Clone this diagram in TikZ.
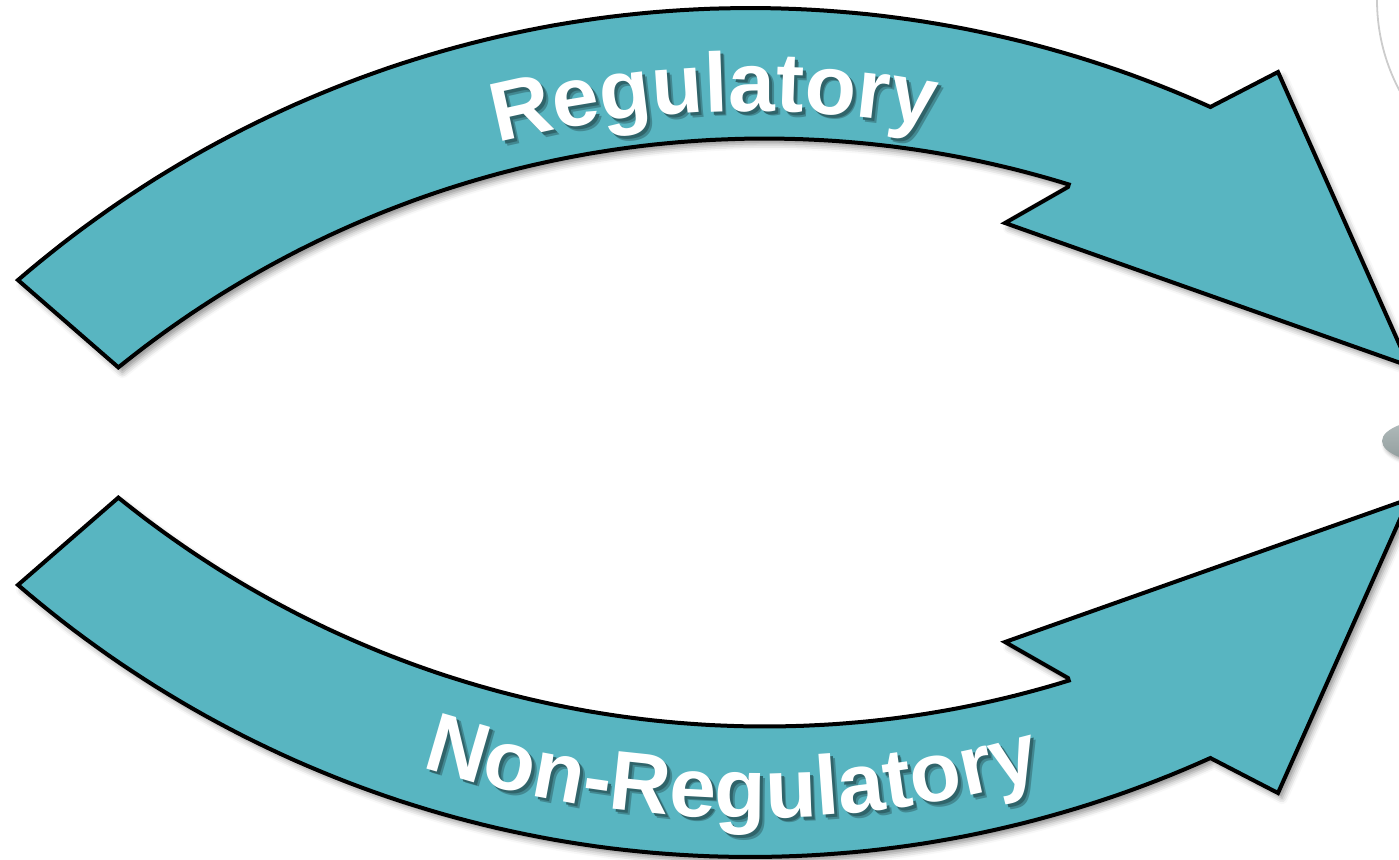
\documentclass[tikz,border=0pt]{standalone}
\usepackage{fontspec}
\setmainfont{Liberation Sans}
\usetikzlibrary{decorations.text,shadows.blur}
\definecolor{bandfill}{HTML}{58B5C1}
\definecolor{blobtop}{HTML}{B4BEBE}
\definecolor{blobbot}{HTML}{8E9A9A}

\begin{document}
\begin{tikzpicture}[x=0.5pt,y=-0.5pt,
  band/.style={fill=bandfill, draw=black, line width=2pt, line join=miter,
    blur shadow={shadow xshift=2pt, shadow yshift=-2.5pt,
                 shadow blur radius=3pt, shadow opacity=45}},
  bandtext/.style={decorate, decoration={text along path, text align=center,
    text color=#1}}]
\useasboundingbox (0,0) rectangle (1399,859);
\clip (0,0) rectangle (1399,859);

% partial circle in the top right corner
\draw[gray!40, line width=0.9pt] (1570,0) circle[radius=96.5pt];

% grey blob at the right edge
\path[top color=blobtop, bottom color=blobbot,
      blur shadow={shadow xshift=1.5pt, shadow yshift=-1.5pt, shadow blur radius=2pt, shadow opacity=40}]
  (1444,441) ellipse[x radius=31pt, y radius=11.5pt];

% upper curved arrow
\path[band]
  plot[domain=130.77:65.75, samples=90] ({750+1121*cos(\x)},{1129-1121*sin(\x)})
  -- (1278,72) -- (1409,366) -- (1005,223) -- (1068,187)
  -- plot[domain=72.81:128.98, samples=90] ({765+1028*cos(\x)},{1166.5-1028*sin(\x)})
  -- cycle;

% lower curved arrow
\path[band]
  plot[domain=130.77:65.75, samples=90] ({750+1121*cos(\x)},{-264+1121*sin(\x)})
  -- (1278,793) -- (1409,499) -- (1005,642) -- (1068,678)
  -- plot[domain=72.81:128.98, samples=90] ({765+1028*cos(\x)},{-301.5+1028*sin(\x)})
  -- cycle;

% label on the upper arrow: soft shadow layers, then the white text
\begin{scope}[xshift=2.4pt, yshift=-2.4pt]
  \path[bandtext=bandfill!75!black, decoration={text={|\fontsize{42}{44}\selectfont\bfseries|Regulatory}}]
    plot[domain=122:62, samples=120] ({750+1018*cos(\x)},{1129-1018*sin(\x)});
\end{scope}
\begin{scope}[xshift=1.5pt, yshift=-1.5pt]
  \path[bandtext=bandfill!55!black, decoration={text={|\fontsize{42}{44}\selectfont\bfseries|Regulatory}}]
    plot[domain=122:62, samples=120] ({750+1018*cos(\x)},{1129-1018*sin(\x)});
\end{scope}
\path[bandtext=white, decoration={text={|\fontsize{42}{44}\selectfont\bfseries|Regulatory}}]
  plot[domain=122:62, samples=120] ({750+1018*cos(\x)},{1129-1018*sin(\x)});

% label on the lower arrow
\begin{scope}[xshift=2.4pt, yshift=-2.4pt]
  \path[bandtext=bandfill!75!black, decoration={text={|\fontsize{42}{44}\selectfont\bfseries|Non-Regulatory}}]
    plot[domain=121:61, samples=120] ({750+1082*cos(\x)},{-264+1082*sin(\x)});
\end{scope}
\begin{scope}[xshift=1.5pt, yshift=-1.5pt]
  \path[bandtext=bandfill!55!black, decoration={text={|\fontsize{42}{44}\selectfont\bfseries|Non-Regulatory}}]
    plot[domain=121:61, samples=120] ({750+1082*cos(\x)},{-264+1082*sin(\x)});
\end{scope}
\path[bandtext=white, decoration={text={|\fontsize{42}{44}\selectfont\bfseries|Non-Regulatory}}]
  plot[domain=121:61, samples=120] ({750+1082*cos(\x)},{-264+1082*sin(\x)});
\end{tikzpicture}
\end{document}
